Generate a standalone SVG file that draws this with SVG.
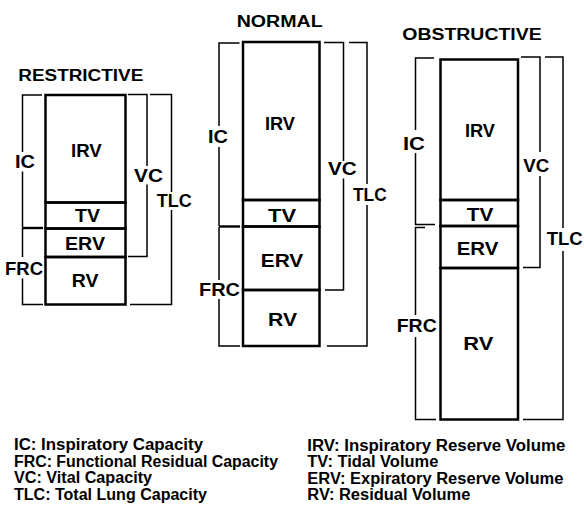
<svg xmlns="http://www.w3.org/2000/svg" width="584" height="510" viewBox="0 0 584 510">
<defs>
<style>
.bg{fill:#fff}
.box{fill:none;stroke:#000;stroke-width:2.5}
.dv{stroke:#000;stroke-width:2.2;fill:none}
.br{fill:none;stroke:#000;stroke-width:1.5}
.brt{fill:none;stroke:#000;stroke-width:2.4}
text{font-family:"Liberation Sans",Arial,Helvetica,sans-serif;font-weight:bold;fill:#000}
.lbl{font-size:18px}
.ttl{font-size:16px}
.leg{font-size:16px}
</style>
</defs>
<rect class="bg" x="0" y="0" width="584" height="510"/>

<!-- RESTRICTIVE -->
<g id="restrictive">
  <text id="r-title" class="ttl" x="18.3" y="80.7" textLength="125" lengthAdjust="spacingAndGlyphs">RESTRICTIVE</text>
  <g id="r-irv"><rect class="box" x="45.5" y="95" width="80" height="107.5"/><text class="lbl" x="71" y="156.7" textLength="30.7" lengthAdjust="spacingAndGlyphs">IRV</text></g>
  <g id="r-tv"><rect class="box" x="45.5" y="202.5" width="80" height="26"/><text class="lbl" x="75" y="222.3" textLength="25" lengthAdjust="spacingAndGlyphs">TV</text></g>
  <g id="r-erv"><rect class="box" x="45.5" y="228.5" width="80" height="28.5"/><text class="lbl" x="65" y="250" textLength="40" lengthAdjust="spacingAndGlyphs">ERV</text></g>
  <g id="r-rv"><rect class="box" x="45.5" y="257" width="80" height="47.5"/><text class="lbl" x="71.7" y="286.7" textLength="26.7" lengthAdjust="spacingAndGlyphs">RV</text></g>
  <g id="r-ic-label"><text class="lbl" x="15" y="168" textLength="20" lengthAdjust="spacingAndGlyphs">IC</text></g>
  <g id="r-frc-label"><text class="lbl" x="5" y="274.5" textLength="38" lengthAdjust="spacingAndGlyphs">FRC</text></g>
  <g id="r-vc-label"><text class="lbl" x="134" y="181.7" textLength="29" lengthAdjust="spacingAndGlyphs">VC</text></g>
  <g id="r-tlc-label"><text class="lbl" x="156.7" y="206.7" textLength="35" lengthAdjust="spacingAndGlyphs">TLC</text></g>
</g>

<!-- NORMAL -->
<g id="normal">
  <text id="n-title" class="ttl" x="236.7" y="26.7" textLength="86" lengthAdjust="spacingAndGlyphs">NORMAL</text>
  <g id="n-irv"><rect class="box" x="243" y="42" width="76.5" height="158"/><text class="lbl" x="265" y="130" textLength="30" lengthAdjust="spacingAndGlyphs">IRV</text></g>
  <g id="n-tv"><rect class="box" x="243" y="200" width="76.5" height="26.5"/><text class="lbl" x="268" y="221.7" textLength="28" lengthAdjust="spacingAndGlyphs">TV</text></g>
  <g id="n-erv"><rect class="box" x="243" y="226.5" width="76.5" height="63.5"/><text class="lbl" x="260.7" y="266.7" textLength="42.6" lengthAdjust="spacingAndGlyphs">ERV</text></g>
  <g id="n-rv"><rect class="box" x="243" y="290" width="76.5" height="56"/><text class="lbl" x="268" y="326" textLength="29" lengthAdjust="spacingAndGlyphs">RV</text></g>
  <g id="n-ic-label"><text class="lbl" x="208" y="143.3" textLength="20" lengthAdjust="spacingAndGlyphs">IC</text></g>
  <g id="n-frc-label"><text class="lbl" x="199" y="296" textLength="41" lengthAdjust="spacingAndGlyphs">FRC</text></g>
  <g id="n-vc-label"><text class="lbl" x="328" y="175" textLength="28.7" lengthAdjust="spacingAndGlyphs">VC</text></g>
  <g id="n-tlc-label"><text class="lbl" x="353" y="200.5" textLength="33.7" lengthAdjust="spacingAndGlyphs">TLC</text></g>
</g>

<!-- OBSTRUCTIVE -->
<g id="obstructive">
  <text id="o-title" class="ttl" x="402.3" y="40" textLength="139.4" lengthAdjust="spacingAndGlyphs">OBSTRUCTIVE</text>
  <g id="o-irv"><rect class="box" x="440.5" y="59.5" width="77.5" height="140.5"/><text class="lbl" x="465" y="136.7" textLength="30" lengthAdjust="spacingAndGlyphs">IRV</text></g>
  <g id="o-tv"><rect class="box" x="440.5" y="200" width="77.5" height="26"/><text class="lbl" x="466.7" y="220.7" textLength="26.6" lengthAdjust="spacingAndGlyphs">TV</text></g>
  <g id="o-erv"><rect class="box" x="440.5" y="226" width="77.5" height="42"/><text class="lbl" x="456.7" y="255" textLength="41.6" lengthAdjust="spacingAndGlyphs">ERV</text></g>
  <g id="o-rv"><rect class="box" x="440.5" y="268" width="77.5" height="151.5"/><text class="lbl" x="463.3" y="350" textLength="30" lengthAdjust="spacingAndGlyphs">RV</text></g>
  <g id="o-ic-label"><text class="lbl" x="403" y="150" textLength="22" lengthAdjust="spacingAndGlyphs">IC</text></g>
  <g id="o-frc-label"><text class="lbl" x="396.7" y="331.7" textLength="40" lengthAdjust="spacingAndGlyphs">FRC</text></g>
  <g id="o-vc-label"><text class="lbl" x="523.3" y="171.7" textLength="26" lengthAdjust="spacingAndGlyphs">VC</text></g>
  <g id="o-tlc-label"><text class="lbl" x="546.7" y="245" textLength="36" lengthAdjust="spacingAndGlyphs">TLC</text></g>
</g>

<!-- Brackets (connectors) -->
<g id="connectors">
  <!-- restrictive -->
  <path class="br" d="M42 95 H22.5 V152 M22.5 171.5 V227.5"/>
  <path class="brt" d="M22.5 228 H43"/>
  <path class="br" d="M22.5 228 V257 M22.5 278.5 V304.5 H43"/>
  <path class="br" d="M128 94.5 H147 V166 M147 184.5 V256.5 H128"/>
  <path class="br" d="M150 94.5 H171.5 V192 M171.5 210 V304.5 H130"/>
  <!-- normal -->
  <path class="br" d="M239.5 43 H219 V126 M219 147 V226"/>
  <path class="brt" d="M219 226.5 H240"/>
  <path class="br" d="M219 227 V280 M219 299 V346 H240"/>
  <path class="br" d="M324 42.5 H343.5 V161 M343.5 178.5 V290 H325"/>
  <path class="br" d="M349 42.5 H367 V184 M367 205 V346 H327"/>
  <!-- obstructive -->
  <path class="br" d="M434 58 H415.5 V130 M415.5 153 V224.5 H435"/>
  <path class="br" d="M425 227.5 H415.5 V315 M415.5 337 V419.5 H436"/>
  <path class="br" d="M521 57 H540 V152 M540 176 V267.5 H523"/>
  <path class="br" d="M545 57 H563 V228 M563 251 V419.5 H523"/>
</g>

<!-- Legend -->
<g id="legend">
  <text class="leg" x="14" y="450" textLength="189" lengthAdjust="spacingAndGlyphs">IC: Inspiratory Capacity</text>
  <text class="leg" x="14" y="466.7" textLength="264" lengthAdjust="spacingAndGlyphs">FRC: Functional Residual Capacity</text>
  <text class="leg" x="14" y="483.3" textLength="138" lengthAdjust="spacingAndGlyphs">VC: Vital Capacity</text>
  <text class="leg" x="14" y="500" textLength="193" lengthAdjust="spacingAndGlyphs">TLC: Total Lung Capacity</text>
  <text class="leg" x="307.3" y="450.5" textLength="258" lengthAdjust="spacingAndGlyphs">IRV: Inspiratory Reserve Volume</text>
  <text class="leg" x="307.3" y="467" textLength="131" lengthAdjust="spacingAndGlyphs">TV: Tidal Volume</text>
  <text class="leg" x="307.3" y="483.5" textLength="256" lengthAdjust="spacingAndGlyphs">ERV: Expiratory Reserve Volume</text>
  <text class="leg" x="307.3" y="500" textLength="163" lengthAdjust="spacingAndGlyphs">RV: Residual Volume</text>
</g>
</svg>
